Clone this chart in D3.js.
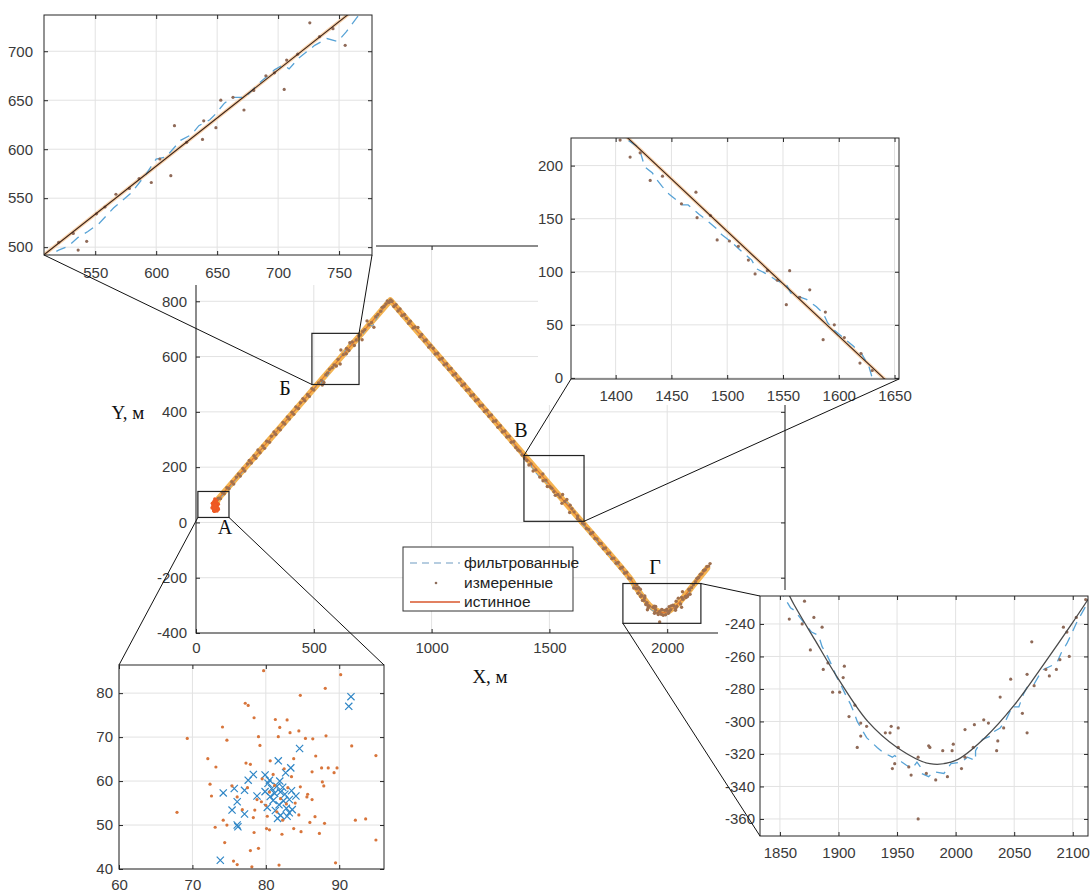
<!DOCTYPE html>
<html>
<head>
<meta charset="utf-8">
<script src="https://cdn.jsdelivr.net/npm/d3@7"></script>
<style>
  body { margin: 0; background: #fff; }
  svg { display: block; }
</style>
</head>
<body>
<div id="chart"></div>
<script>
// Данные траектории (м) //
// истинная траектория: прямые участки и поворот Г
const trueLine = [[81,57],[95,86],[825,804],[1640,0]]
const trueTurn = [[1640,0],[1845,-205],[1862,-228],[1880,-250],[1900,-274],[1925,-300],[1950,-316],[1978,-326],[2000,-324],[2025,-310],[2050,-290],[2075,-265],[2100,-239],[2125,-212],[2170,-165]]

// измеренные: стоянка в точке А
const measStart = [[79.7,85.1],[88.1,81.1],[84.7,79.5],[77.2,77.7],[77.6,77.2],[78.4,74.4],[74.1,72.3],[81.3,74.0],[82.9,73.9],[81.9,72.2],[74.7,69.3],[69.3,69.7],[79.0,70.1],[79.2,68.1],[81.7,70.1],[83.3,71.0],[84.5,71.4],[85.4,69.7],[86.4,69.6],[88.2,70.3],[91.7,68.0],[95.0,65.8],[72.1,65.1],[73.2,63.2],[77.3,64.1],[77.9,63.8],[80.6,64.6],[83.8,65.1],[86.8,65.7],[87.6,63.0],[88.5,63.0],[89.7,63.0],[89.3,61.9],[87.7,59.8],[87.9,58.9],[86.3,62.1],[72.4,59.3],[72.6,56.6],[75.4,58.9],[76.1,56.4],[84.7,58.7],[85.7,57.0],[85.6,56.4],[86.3,55.8],[67.9,52.9],[73.1,49.5],[74.7,50.0],[74.2,51.1],[78.3,51.7],[78.5,53.4],[79.4,55.3],[80.1,49.2],[80.5,48.9],[78.4,48.3],[82.2,47.9],[82.3,51.1],[83.8,49.2],[84.8,48.5],[84.5,52.3],[86.0,50.6],[86.7,51.9],[87.3,48.1],[88.0,50.4],[92.2,51.1],[93.6,51.4],[95.0,46.6],[74.4,46.0],[79.0,44.7],[77.9,44.2],[75.6,41.8],[76.1,41.0],[78.1,40.5],[81.8,40.9],[89.5,41.4],[90.2,84.2],[80.5,57.5],[81.2,59.0],[82.0,56.0],[83.0,58.5],[80.0,54.5],[81.5,53.0],[82.8,54.8],[79.5,60.5],[83.5,61.0],[81.0,61.5],[77.5,58.5],[78.8,55.8],[84.0,55.0],[82.5,62.8],[80.2,52.0],[76.8,53.5]]

// измеренные: подъём до вершины (участок Б)
const measUp = [[95,88],[104,86],[112,108],[120,104],[131,126],[140,122],[152,147],[160,139],[171,164],[180,175],[188,168],[199,195],[207,186],[218,212],[226,224],[235,215],[246,241],[254,232],[263,262],[272,252],[283,277],[291,268],[300,294],[312,290],[320,312],[331,327],[339,318],[350,341],[358,335],[369,362],[377,356],[388,382],[396,374],[407,399],[415,391],[424,418],[435,412],[443,433],[454,448],[462,440],[473,463],[481,456],[492,484],[500,479],[520,505],[532,514],[536,497],[543,506],[551,534],[558,541],[567,554],[578,560],[586,570],[596,566],[603,590],[612,573],[615,624],[625,607],[638,610],[639,629],[649,622],[653,650],[663,653],[672,640],[680,660],[690,675],[697,678],[705,661],[707,691],[716,697],[726,729],[734,715],[745,723],[755,706],[763,744],[772,752],[784,764],[790,778],[798,781],[806,790],[812,801],[819,796],[826,805]]

// измеренные: спуск (участок В)
const measDown = [[832,800],[840,781],[849,788],[857,765],[866,772],[874,748],[885,752],[893,738],[902,720],[910,728],[921,703],[929,707],[942,705],[950,672],[958,680],[969,656],[977,660],[988,634],[996,641],[1007,630],[1015,609],[1026,612],[1034,590],[1045,594],[1053,570],[1064,574],[1072,553],[1083,557],[1091,533],[1102,538],[1110,515],[1121,518],[1129,495],[1140,501],[1148,478],[1159,481],[1167,458],[1178,462],[1186,440],[1197,445],[1205,421],[1216,424],[1224,401],[1235,406],[1243,384],[1254,389],[1262,365],[1273,368],[1281,344],[1292,350],[1300,327],[1311,331],[1319,309],[1330,312],[1338,290],[1349,293],[1357,271],[1366,262],[1375,258],[1384,244],[1395,231],[1404,224],[1413,208],[1422,212],[1431,186],[1442,190],[1459,164],[1472,175],[1473,151],[1485,153],[1491,130],[1502,129],[1510,124],[1519,111],[1525,98],[1536,101],[1545,92],[1553,69],[1556,101],[1565,76],[1574,83],[1586,36],[1588,62],[1596,50],[1605,38],[1619,14],[1620,23],[1630,7],[1640,-2],[1648,-6],[1657,-22],[1666,-25],[1675,-41],[1684,-36],[1693,-58],[1702,-60],[1711,-77],[1720,-76],[1729,-95],[1738,-92],[1747,-113],[1756,-110],[1765,-131],[1774,-129],[1783,-148],[1792,-145],[1801,-166],[1810,-162],[1819,-184],[1828,-180],[1837,-202],[1846,-203]]

// измеренные: поворот (участок Г)
const measTurn = [[1858,-237],[1869,-240],[1871,-226],[1876,-256],[1879,-236],[1886,-242],[1887,-268],[1891,-264],[1895,-282],[1901,-282],[1904,-273],[1905,-266],[1909,-297],[1914,-290],[1916,-316],[1919,-309],[1919,-301],[1924,-303],[1940,-307],[1944,-307],[1945,-303],[1946,-329],[1948,-326],[1951,-304],[1951,-316],[1960,-328],[1962,-333],[1968,-322],[1968,-360],[1975,-332],[1977,-315],[1978,-316],[1983,-336],[1989,-318],[1993,-334],[1997,-318],[1998,-314],[2005,-329],[2008,-305],[2008,-322],[2015,-316],[2016,-302],[2024,-299],[2028,-301],[2035,-318],[2036,-312],[2038,-285],[2041,-304],[2047,-274],[2057,-295],[2061,-307],[2061,-271],[2065,-251],[2067,-278],[2077,-268],[2080,-272],[2086,-268],[2089,-262],[2092,-242],[2095,-245],[2097,-260],[2103,-236],[2111,-225],[2120,-214],[2126,-203],[2133,-199],[2140,-188],[2147,-186],[2154,-174],[2161,-171],[2168,-160],[2176,-158],[2182,-149]]

// фильтрованные: оценки на стоянке (маркеры x)
const filtStart = [[91.6,79.2],[91.3,77.0],[84.6,67.4],[81.7,64.6],[83.4,63.0],[82.7,61.9],[78.3,61.5],[77.6,60.2],[79.9,61.4],[74.2,57.3],[75.7,58.3],[77.1,57.9],[78.8,56.6],[76.1,55.3],[75.4,53.4],[77.1,52.5],[76.1,50.0],[76.2,49.6],[73.8,42.0],[84.1,56.6],[83.2,55.8],[80.3,59.5],[80.8,58.3],[81.2,57.2],[80.6,56.5],[81.5,58.8],[82.0,57.5],[81.0,55.6],[81.8,54.6],[82.4,55.5],[82.8,53.8],[83.2,52.8],[82.0,52.2],[81.3,53.3],[80.2,54.0],[82.6,57.0],[83.5,57.8],[80.5,60.2],[81.9,60.0],[82.9,52.0],[83.6,53.5],[81.6,51.5],[82.3,58.6],[79.9,57.6]]

// фильтрованные: траектория
const filtPath = [[84,62],[92,76],[110,95],[140,124],[170,156],[200,184],[230,216],[260,247],[290,275],[320,307],[350,336],[380,364],[410,395],[440,423],[470,455],[500,483],[520,497],[528,501],[536,510],[544,516],[553,524],[565,540],[580,556],[592,575],[600,590],[608,592],[620,609],[629,615],[635,624],[644,630],[648,635],[656,647],[663,653],[673,653],[685,668],[697,681],[704,686],[709,682],[717,693],[730,706],[740,713],[749,710],[756,720],[765,735],[780,755],[800,780],[820,797],[835,795],[860,768],[890,738],[920,709],[950,678],[980,648],[1010,620],[1040,590],[1070,559],[1100,531],[1130,501],[1160,472],[1190,443],[1220,412],[1250,383],[1280,354],[1310,324],[1340,293],[1370,262],[1395,236],[1415,221],[1421,217],[1426,199],[1433,193],[1436,188],[1442,180],[1448,173],[1460,163],[1465,163],[1475,154],[1481,149],[1490,141],[1495,135],[1505,127],[1511,121],[1522,111],[1526,103],[1537,97],[1544,92],[1553,88],[1557,80],[1563,77],[1571,74],[1580,67],[1586,61],[1590,52],[1596,45],[1605,37],[1613,30],[1621,22],[1627,11],[1630,0],[1660,-24],[1690,-55],[1720,-84],[1750,-114],[1780,-143],[1810,-172],[1835,-198],[1854,-224],[1859,-230],[1863,-232],[1867,-236],[1877,-245],[1883,-247],[1886,-254],[1890,-259],[1894,-265],[1898,-272],[1903,-279],[1907,-285],[1910,-289],[1913,-294],[1916,-300],[1920,-305],[1924,-310],[1933,-316],[1938,-319],[1946,-322],[1948,-321],[1954,-325],[1958,-327],[1963,-329],[1967,-325],[1970,-328],[1971,-332],[1977,-334],[1981,-331],[1990,-332],[1996,-326],[2005,-325],[2010,-322],[2017,-324],[2017,-318],[2021,-313],[2023,-311],[2030,-309],[2031,-307],[2038,-304],[2043,-299],[2047,-293],[2047,-291],[2054,-291],[2058,-283],[2061,-279],[2067,-277],[2071,-272],[2075,-268],[2084,-265],[2087,-263],[2090,-258],[2095,-252],[2099,-246],[2104,-238],[2108,-233],[2115,-224],[2130,-208],[2150,-186],[2165,-172]]

// Подписи осей //
const mainXTicks = [0, 500, 1000, 1500, 2000, 2500]
const mainYTicks = [-400, -200, 0, 200, 400, 600, 800, 1000]
const bXTicks = [550, 600, 650, 700, 750]
const bYTicks = [500, 550, 600, 650, 700]
const vXTicks = [1400, 1450, 1500, 1550, 1600, 1650]
const vYTicks = [0, 50, 100, 150, 200]
const aXTicks = [60, 70, 80, 90]
const aYTicks = [40, 50, 60, 70, 80]
const gXTicks = [1850, 1900, 1950, 2000, 2050, 2100]
const gYTicks = [-360, -340, -320, -300, -280, -260, -240]

// Области увеличения [x0, x1, y0, y1] и буквы
const zoomB = [492, 692, 499, 684]
const zoomV = [1392, 1647, 4, 242]
const zoomA = [8, 140, 18, 112]
const zoomG = [1812, 2143, -365, -221]
const letters = [
  { t: 'Б', x: 378, y: 461 },
  { t: 'В', x: 1379, y: 309 },
  { t: 'А', x: 123, y: -42 },
  { t: 'Г', x: 1948, y: -187 }
]
const legendItems = ['фильтрованные', 'измеренные', 'истинное']

const SANS = '"Liberation Sans", Arial, sans-serif'
const SERIF = '"Liberation Serif", "Times New Roman", serif'

const svg = d3.select('#chart').append('svg')
  .attr('width', 1090).attr('height', 892)
const defs = svg.append('defs')

// Рисует одну систему координат //
function panel(p) {
  const g = svg.append('g')
  const [x0, y0, x1, y1] = p.box
  if (p.bg) {
    g.append('rect')
      .attr('x', p.bg[0]).attr('y', p.bg[1])
      .attr('width', p.bg[2] - p.bg[0]).attr('height', p.bg[3] - p.bg[1])
      .attr('fill', '#fff')
  }
  const x = d3.scaleLinear().domain(p.xDom).range([x0, x1])
  const y = d3.scaleLinear().domain(p.yDom).range([y1, y0])

  const grid = g.append('g').attr('stroke', '#e2e2e2').attr('stroke-width', 1)
  grid.selectAll('line.gx').data(p.xTicks).join('line').attr('class', 'gx')
    .attr('x1', d => x(d)).attr('x2', d => x(d)).attr('y1', y0).attr('y2', y1)
  grid.selectAll('line.gy').data(p.yTicks).join('line').attr('class', 'gy')
    .attr('y1', d => y(d)).attr('y2', d => y(d)).attr('x1', x0).attr('x2', x1)

  const cid = 'clip-' + p.id
  defs.append('clipPath').attr('id', cid).append('rect')
    .attr('x', x0).attr('y', y0).attr('width', x1 - x0).attr('height', y1 - y0)
  const plot = g.append('g').attr('clip-path', 'url(#' + cid + ')')
  p.draw(plot, x, y)

  const fmt = d => String(d)
  g.append('g').attr('transform', `translate(0,${y1})`)
    .call(d3.axisBottom(x).tickValues(p.xTicks).tickSize(-4).tickPadding(p.xPad).tickFormat(fmt))
  g.append('g').attr('transform', `translate(${x0},0)`)
    .call(d3.axisLeft(y).tickValues(p.yTicks).tickSize(-4).tickPadding(p.yPad).tickFormat(fmt))
  g.append('g').attr('transform', `translate(0,${y0})`)
    .call(d3.axisTop(x).tickValues(p.xTicks).tickSize(-4).tickFormat(''))
  g.append('g').attr('transform', `translate(${x1},0)`)
    .call(d3.axisRight(y).tickValues(p.yTicks).tickSize(-4).tickFormat(''))
  g.selectAll('.domain').remove()
  g.selectAll('.tick line').attr('stroke', '#262626')
  g.selectAll('.tick text')
    .attr('font-size', 15).attr('font-family', SANS).attr('fill', '#3a3a3a')

  g.append('rect')
    .attr('x', x0).attr('y', y0).attr('width', x1 - x0).attr('height', y1 - y0)
    .attr('fill', 'none').attr('stroke', '#262626').attr('stroke-width', 1)
  return { x, y, g }
}

// Рисует ряды данных //
function series(g, x, y, s) {
  const line = d3.line().x(d => x(d[0])).y(d => y(d[1]))
  const curve = d3.line().x(d => x(d[0])).y(d => y(d[1])).curve(d3.curveCatmullRom.alpha(0.5))
  const truePaths = [[trueLine, line], [trueTurn, curve]]

  if (s.band && !s.noLines) {
    truePaths.forEach(([d, gen]) => {
      g.append('path').attr('d', gen(d)).attr('fill', 'none')
        .attr('stroke', s.band).attr('stroke-width', s.bandW)
        .attr('stroke-linejoin', 'round').attr('stroke-linecap', 'round')
    })
  }
  if (!s.noLines) {
    g.append('path').attr('d', line(filtPath)).attr('fill', 'none')
      .attr('stroke', s.filt).attr('stroke-width', s.filtW)
      .attr('stroke-dasharray', s.dash)
  }

  if (s.crosses) {
    const k = 3.6
    g.selectAll('path.cross').data(filtStart).join('path').attr('class', 'cross')
      .attr('d', d => {
        const cx = x(d[0]), cy = y(d[1])
        return `M${cx - k},${cy - k}L${cx + k},${cy + k}M${cx - k},${cy + k}L${cx + k},${cy - k}`
      })
      .attr('stroke', '#2f86c6').attr('stroke-width', 1.2).attr('fill', 'none')
  }

  if (!s.trueOnTop) drawTrue()
  const dots = [[measStart, s.startDot], [measUp, s.dot], [measDown, s.dot], [measTurn, s.dot]]
  dots.forEach(([d, c]) => {
    g.append('g').selectAll('circle').data(d).join('circle')
      .attr('cx', p => x(p[0])).attr('cy', p => y(p[1]))
      .attr('r', s.r).attr('fill', c)
  })
  if (s.trueOnTop) drawTrue()

  function drawTrue() {
    if (s.noLines) return
    truePaths.forEach(([d, gen]) => {
      g.append('path').attr('d', gen(d)).attr('fill', 'none')
        .attr('stroke', s.trueC).attr('stroke-width', s.trueW)
    })
  }
}

// Основной график //
const main = panel({
  id: 'main', box: [196, 246, 785, 633],
  xDom: [0, 2500], yDom: [-400, 1000],
  xTicks: mainXTicks, yTicks: mainYTicks, xPad: 9, yPad: 9,
  draw: (g, x, y) => series(g, x, y, {
    band: '#f5b451', bandW: 6, filt: '#5b9bd5', filtW: 1, dash: '6,4',
    trueC: '#e27a30', trueW: 1.2, dot: '#a0704e', startDot: '#ee5a24', r: 1.7
  })
})

// рамки увеличиваемых областей
const mx = main.x, my = main.y
;[zoomB, zoomV, zoomA, zoomG].forEach(b => {
  main.g.append('rect')
    .attr('x', mx(b[0])).attr('y', my(b[3]))
    .attr('width', mx(b[1]) - mx(b[0])).attr('height', my(b[2]) - my(b[3]))
    .attr('fill', 'none').attr('stroke', '#222').attr('stroke-width', 1.2)
})
main.g.selectAll('text.letter').data(letters).join('text').attr('class', 'letter')
  .attr('x', d => mx(d.x)).attr('y', d => my(d.y))
  .attr('text-anchor', 'middle').attr('font-family', SERIF).attr('font-size', 20)
  .attr('fill', '#111').text(d => d.t)

svg.append('text').attr('x', 128).attr('y', 419).attr('text-anchor', 'middle')
  .attr('font-family', SERIF).attr('font-size', 19).attr('fill', '#111').text('Y, м')
svg.append('text').attr('x', 490).attr('y', 683).attr('text-anchor', 'middle')
  .attr('font-family', SERIF).attr('font-size', 19).attr('fill', '#111').text('X, м')

// легенда
const leg = svg.append('g')
leg.append('rect').attr('x', 403).attr('y', 547).attr('width', 170).attr('height', 64)
  .attr('fill', '#fff').attr('stroke', '#333').attr('stroke-width', 1)
const legY = [563, 583, 602]
leg.append('line').attr('x1', 410).attr('x2', 460).attr('y1', legY[0]).attr('y2', legY[0])
  .attr('stroke', '#6f9cc2').attr('stroke-width', 1.2).attr('stroke-dasharray', '7,5')
leg.append('circle').attr('cx', 436).attr('cy', legY[1]).attr('r', 1.3).attr('fill', '#8e6d5c')
leg.append('line').attr('x1', 410).attr('x2', 460).attr('y1', legY[2]).attr('y2', legY[2])
  .attr('stroke', '#d9572c').attr('stroke-width', 1.3)
leg.selectAll('text').data(legendItems).join('text')
  .attr('x', 464).attr('y', (d, i) => legY[i]).attr('dy', '0.35em')
  .attr('font-family', SANS).attr('font-size', 15.5).attr('fill', '#222').text(d => d)

// Врезки //
const insetStyle = {
  band: '#f9d3ad', bandW: 3.5, filt: '#58a3d6', filtW: 1.3, dash: '10,7',
  trueC: '#3d2418', trueW: 1.1, dot: '#8f6a58', startDot: '#d8753b', r: 1.6, trueOnTop: true
}
const insB = panel({
  id: 'b', bg: [0, 0, 376, 285], box: [44, 15, 372, 255],
  xDom: [508, 777], yDom: [492, 737], xTicks: bXTicks, yTicks: bYTicks, xPad: 12, yPad: 11,
  draw: (g, x, y) => series(g, x, y, insetStyle)
})
const insV = panel({
  id: 'v', bg: [538, 120, 915, 405], box: [571, 138, 899, 379],
  xDom: [1360, 1654], yDom: [-1, 226], xTicks: vXTicks, yTicks: vYTicks, xPad: 11, yPad: 8,
  draw: (g, x, y) => series(g, x, y, insetStyle)
})
const insA = panel({
  id: 'a', bg: [85, 658, 395, 892], box: [119, 665, 384, 869],
  xDom: [60, 96.1], yDom: [40, 86.4], xTicks: aXTicks, yTicks: aYTicks, xPad: 10, yPad: 6,
  draw: (g, x, y) => series(g, x, y, Object.assign({}, insetStyle, { crosses: true, noLines: true, r: 1.6 }))
})
const insG = panel({
  id: 'g', bg: [718, 590, 1090, 892], box: [760, 596, 1088, 836],
  xDom: [1833, 2113], yDom: [-370.5, -222.8], xTicks: gXTicks, yTicks: gYTicks, xPad: 11, yPad: 5,
  draw: (g, x, y) => series(g, x, y, Object.assign({}, insetStyle, { band: null, trueC: '#4a4a4a', trueW: 1.3 }))
})

// Соединительные линии //
const links = [
  [mx(zoomB[0]), my(zoomB[2]), 44, 255],
  [mx(zoomB[1]), my(zoomB[3]), 372, 255],
  [mx(zoomV[0]), my(zoomV[3]), 571, 379],
  [mx(zoomV[1]), my(zoomV[2]), 899, 379],
  [mx(zoomA[0]), my(zoomA[2]), 119, 665],
  [mx(zoomA[1]), my(zoomA[2]), 384, 665],
  [mx(zoomG[1]), my(zoomG[3]), 760, 596],
  [mx(zoomG[0]), my(zoomG[2]), 760, 836]
]
svg.append('g').selectAll('line').data(links).join('line')
  .attr('x1', d => d[0]).attr('y1', d => d[1]).attr('x2', d => d[2]).attr('y2', d => d[3])
  .attr('stroke', '#111').attr('stroke-width', 1)
</script>
</body>
</html>
